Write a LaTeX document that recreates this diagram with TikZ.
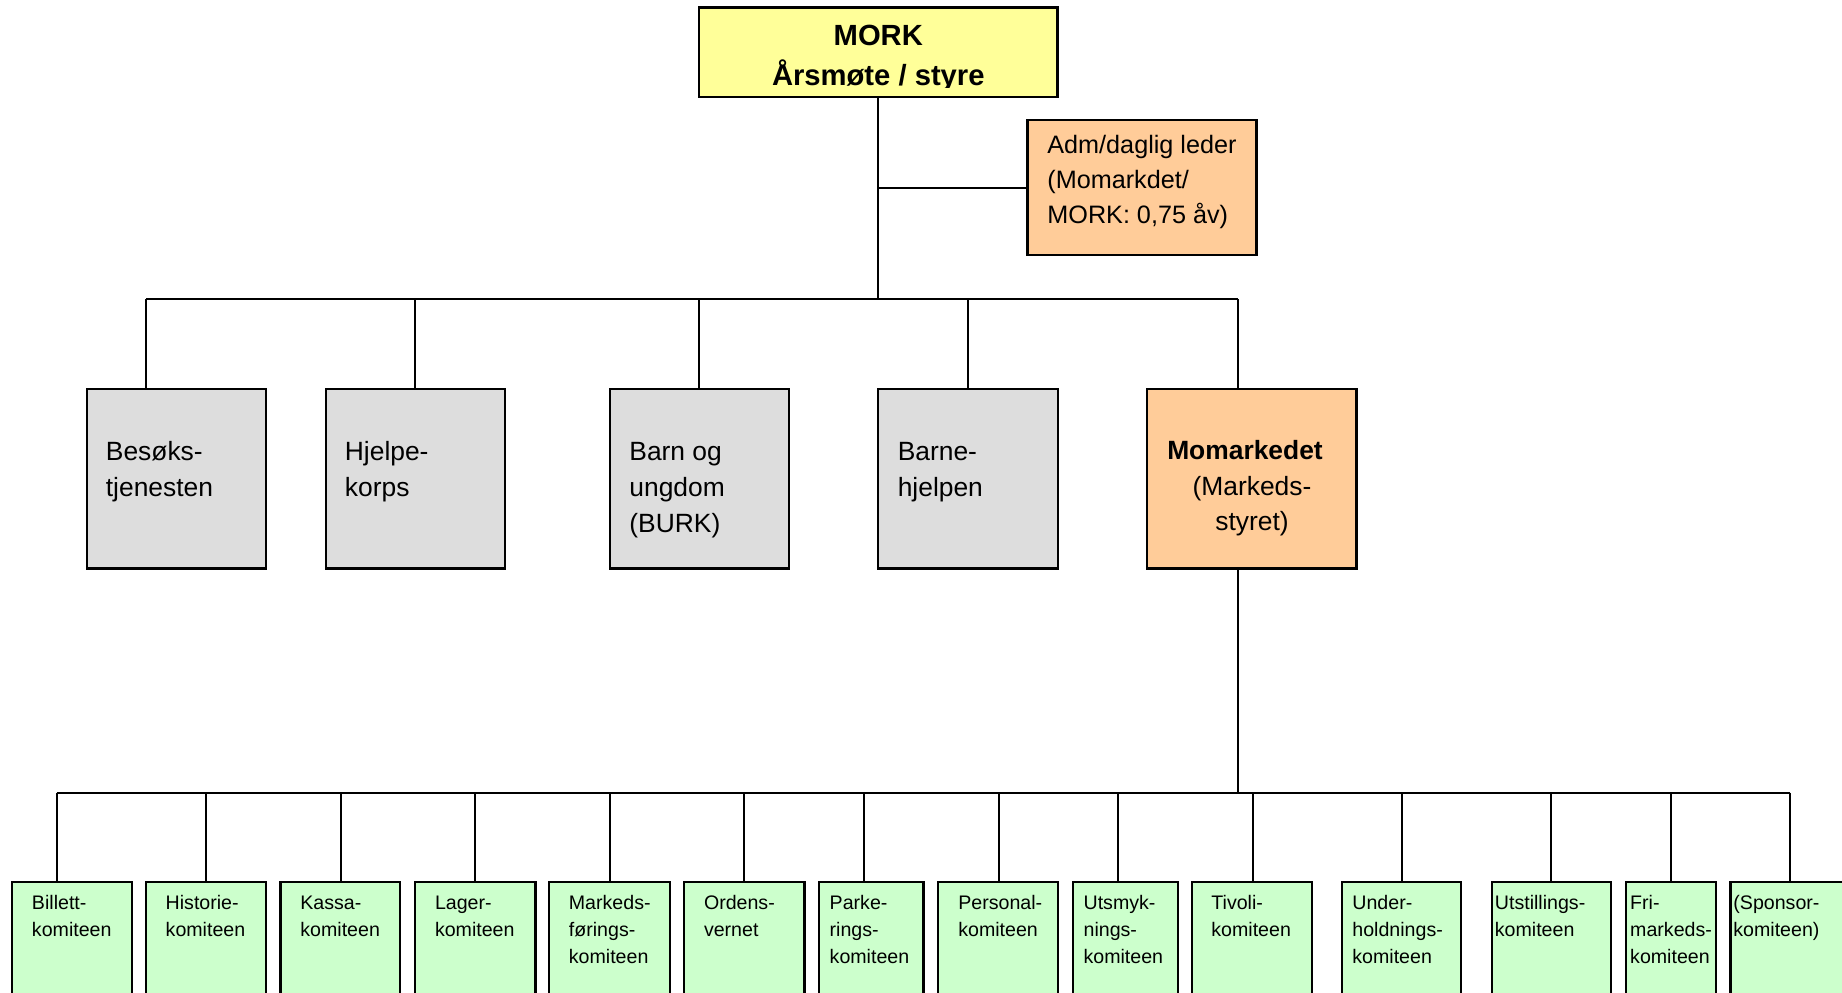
\documentclass[tikz,border=0pt]{standalone}
\usepackage{fontspec}
\setmainfont{Liberation Sans}
\usetikzlibrary{fit}
\definecolor{cyellow}{HTML}{FFFF99}
\definecolor{corange}{HTML}{FFCC99}
\definecolor{cgray}{HTML}{DDDDDD}
\definecolor{cgreen}{HTML}{CCFFCC}
\newcommand{\mystrut}[1]{\rule{0pt}{#1}}
\begin{document}
\begin{tikzpicture}[x=0.5pt,y=-0.5pt,
  box/.style={draw=black, line width=1.1pt, inner sep=0pt},
  topbox/.style={box, fill=cyellow},
  admbox/.style={box, fill=corange},
  unitbox/.style={box, fill=cgray},
  marketbox/.style={box, fill=corange},
  combox/.style={box, fill=cgreen},
  link/.style={draw=black, line width=1pt},
  toptext/.style={inner sep=0pt, anchor=north, align=center, font=\fontsize{14.6}{20}\selectfont\bfseries},
  admtext/.style={inner sep=0pt, anchor=north west, align=left, font=\fontsize{12.6}{17.35}\selectfont},
  unittext/.style={inner sep=0pt, anchor=north west, align=left, font=\fontsize{13.2}{17.85}\selectfont},
  markettext/.style={inner sep=0pt, anchor=north, align=center, font=\fontsize{13.2}{17.85}\selectfont},
  comtext/.style={inner sep=0pt, anchor=north west, align=left, font=\fontsize{9.8}{13.35}\selectfont},
]
\useasboundingbox (0,0) rectangle (1842,992);
\clip (0,0) rectangle (1842,992);

% top level
\node[topbox, fit={(699,7.5) (1057.5,97)}] (mork) {};
\begin{scope}
  \clip (699,7.5) rectangle (1057.5,87.5);
  \node[toptext] (morkt) at (878.3,23) {\mystrut{11pt}MORK\\Årsmøte / styre};
\end{scope}

\node[admbox, fit={(1027.5,120) (1256.5,255)}] (adm) {};
\node[admtext] (admt) at (1047,133.5) {\mystrut{10pt}Adm/daglig leder\\(Momarkdet/\\MORK: 0,75 åv)};

% second level
\node[unitbox, fit={(86.7,389) (266,568.5)}] (besoks) {};
\node[unitbox, fit={(325.6,389) (505,568.5)}] (hjelpe) {};
\node[unitbox, fit={(610,389) (788.6,568.5)}] (barn) {};
\node[unitbox, fit={(877.9,389) (1058,568.5)}] (barne) {};
\node[marketbox, fit={(1147.2,389) (1356.5,568.5)}] (market) {};

\node[unittext] (besokst) at (105.5,440.3) {\mystrut{10pt}Besøks-\\tjenesten};
\node[unittext] (hjelpet) at (344.5,440.3) {\mystrut{10pt}Hjelpe-\\korps};
\node[unittext] (barnt) at (629,440.3) {\mystrut{10pt}Barn og\\ungdom\\(BURK)};
\node[unittext] (barnet) at (897.4,440.3) {\mystrut{10pt}Barne-\\hjelpen};
\node[markettext] (markett) at (1252,439) {\mystrut{10pt}\textbf{Momarkedet}\hspace*{7pt}\\(Markeds-\\styret)};

% third level
\node[combox, fit={(11.9,882.3) (131.7,1010)}] (c1) {};
\node[combox, fit={(146.3,882.3) (265.7,1010)}] (c2) {};
\node[combox, fit={(280.4,882.3) (400.2,1010)}] (c3) {};
\node[combox, fit={(414.8,882.3) (535.4,1010)}] (c4) {};
\node[combox, fit={(549.2,882.3) (670,1010)}] (c5) {};
\node[combox, fit={(684.2,882.3) (804.4,1010)}] (c6) {};
\node[combox, fit={(818.7,882.3) (923.4,1010)}] (c7) {};
\node[combox, fit={(938,882.3) (1058.3,1010)}] (c8) {};
\node[combox, fit={(1072.9,882.3) (1177.7,1010)}] (c9) {};
\node[combox, fit={(1192.3,882.3) (1312,1010)}] (c10) {};
\node[combox, fit={(1342.2,882.3) (1461.2,1010)}] (c11) {};
\node[combox, fit={(1491.7,882.3) (1610.7,1010)}] (c12) {};
\node[combox, fit={(1625.8,882.3) (1715.8,1010)}] (c13) {};
\node[combox, fit={(1730.5,882.3) (1852,1010)}] (c14) {};

\node[comtext] (t1) at (31.6,893.5) {\mystrut{8pt}Billett-\\komiteen};
\node[comtext] (t2) at (165.3,893.5) {\mystrut{8pt}Historie-\\komiteen};
\node[comtext] (t3) at (300,893.5) {\mystrut{8pt}Kassa-\\komiteen};
\node[comtext] (t4) at (434.6,893.5) {\mystrut{8pt}Lager-\\komiteen};
\node[comtext] (t5) at (568.5,893.5) {\mystrut{8pt}Markeds-\\førings-\\komiteen};
\node[comtext] (t6) at (703.6,893.5) {\mystrut{8pt}Ordens-\\vernet};
\node[comtext] (t7) at (829.3,893.5) {\mystrut{8pt}Parke-\\rings-\\komiteen};
\node[comtext] (t8) at (957.9,893.5) {\mystrut{8pt}Personal-\\komiteen};
\node[comtext] (t9) at (1083.2,893.5) {\mystrut{8pt}Utsmyk-\\nings-\\komiteen};
\node[comtext] (t10) at (1211,893.5) {\mystrut{8pt}Tivoli-\\komiteen};
\node[comtext] (t11) at (1352,893.5) {\mystrut{8pt}Under-\\holdnings-\\komiteen};
\node[comtext] (t12) at (1494.5,893.5) {\mystrut{8pt}Utstillings-\\komiteen};
\node[comtext] (t13) at (1629.8,893.5) {\mystrut{8pt}Fri-\\markeds-\\komiteen};
\node[comtext] (t14) at (1733,893.5) {\mystrut{8pt}(Sponsor-\\komiteen)};

% bus junctions, level 2
\coordinate (r1) at (146.3,299);
\coordinate (r2) at (415.3,299);
\coordinate (r3) at (699.4,299);
\coordinate (r4) at (968.4,299);
\coordinate (r5) at (1237.7,299);

% bus junctions, level 3
\coordinate (b1) at (56.5,792.7);
\coordinate (b2) at (206,792.7);
\coordinate (b3) at (340.9,792.7);
\coordinate (b4) at (475.3,792.7);
\coordinate (b5) at (609.7,792.7);
\coordinate (b6) at (744.3,792.7);
\coordinate (b7) at (863.7,792.7);
\coordinate (b8) at (998.6,792.7);
\coordinate (b9) at (1118,792.7);
\coordinate (b10) at (1252.5,792.7);
\coordinate (b11) at (1401.7,792.7);
\coordinate (b12) at (1551.2,792.7);
\coordinate (b13) at (1670.6,792.7);
\coordinate (b14) at (1790.4,792.7);

% connectors
\draw[link] (mork.south) -- (mork.south |- r1);
\draw[link] (adm.west) -- (adm.west -| mork.south);
\draw[link] (r1) -- (r5);
\draw[link] (r1) -- (r1 |- besoks.north);
\draw[link] (r2) -- (r2 |- hjelpe.north);
\draw[link] (r3) -- (r3 |- barn.north);
\draw[link] (r4) -- (r4 |- barne.north);
\draw[link] (r5) -- (r5 |- market.north);
\draw[link] (r5 |- market.south) -- (r5 |- b1);
\draw[link] (b1) -- (b14);
\foreach \i in {1,...,14} {
  \draw[link] (b\i) -- (b\i |- c\i.north);
}
\end{tikzpicture}
\end{document}
